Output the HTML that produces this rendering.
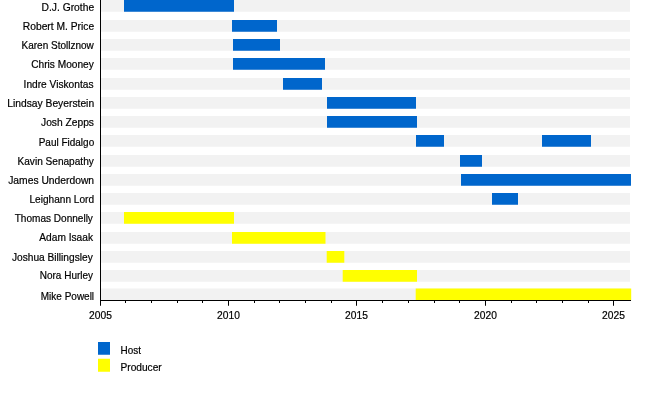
<!DOCTYPE html>
<html><head><meta charset="utf-8"><title>Timeline</title>
<style>
html,body{margin:0;padding:0;background:#fff;}
svg{display:block;}
text{font-family:"Liberation Sans",sans-serif;font-size:10.5px;fill:#000;stroke:#000;stroke-width:0.2px;}
</style></head><body>
<svg width="650" height="400" viewBox="0 0 650 400">
<rect x="0" y="0" width="650" height="400" fill="#fff"/>
<g fill="#f2f2f2">
<rect x="101" y="0" width="529" height="11.75"/>
<rect x="101" y="20" width="529" height="11.75"/>
<rect x="101" y="39" width="529" height="11.75"/>
<rect x="101" y="58" width="529" height="11.75"/>
<rect x="101" y="78" width="529" height="11.75"/>
<rect x="101" y="97" width="529" height="11.75"/>
<rect x="101" y="116" width="529" height="11.75"/>
<rect x="101" y="135" width="529" height="11.75"/>
<rect x="101" y="155" width="529" height="11.75"/>
<rect x="101" y="174" width="529" height="11.75"/>
<rect x="101" y="193" width="529" height="11.75"/>
<rect x="101" y="212" width="529" height="11.75"/>
<rect x="101" y="232" width="529" height="11.75"/>
<rect x="101" y="251" width="529" height="11.75"/>
<rect x="101" y="270" width="529" height="11.75"/>
<rect x="101" y="288.5" width="529" height="11.75"/>
</g>
<rect x="124" y="0" width="110" height="11.75" fill="#0066cc"/>
<rect x="232" y="20" width="45" height="11.75" fill="#0066cc"/>
<rect x="233" y="39" width="47" height="11.75" fill="#0066cc"/>
<rect x="233" y="58" width="92" height="11.75" fill="#0066cc"/>
<rect x="283" y="78" width="39" height="11.75" fill="#0066cc"/>
<rect x="327" y="97" width="89" height="11.75" fill="#0066cc"/>
<rect x="327" y="116" width="90" height="11.75" fill="#0066cc"/>
<rect x="416" y="135" width="28" height="11.75" fill="#0066cc"/>
<rect x="542" y="135" width="49" height="11.75" fill="#0066cc"/>
<rect x="460" y="155" width="22" height="11.75" fill="#0066cc"/>
<rect x="461" y="174" width="170" height="11.75" fill="#0066cc"/>
<rect x="492" y="193" width="26" height="11.75" fill="#0066cc"/>
<rect x="124" y="212" width="110" height="11.75" fill="#ffff00"/>
<rect x="232" y="232" width="93.5" height="11.75" fill="#ffff00"/>
<rect x="326.7" y="251" width="17.600000000000023" height="11.75" fill="#ffff00"/>
<rect x="342.7" y="270" width="74.30000000000001" height="11.75" fill="#ffff00"/>
<rect x="415.7" y="288.5" width="215.50000000000006" height="11.75" fill="#ffff00"/>
<g fill="#000">
<rect x="100" y="0" width="1" height="301"/>
<rect x="100" y="300" width="531" height="1"/>
<rect x="100" y="300" width="1" height="5.75"/>
<rect x="125" y="300" width="1" height="3"/>
<rect x="151" y="300" width="1" height="3"/>
<rect x="177" y="300" width="1" height="3"/>
<rect x="202" y="300" width="1" height="3"/>
<rect x="228" y="300" width="1" height="5.75"/>
<rect x="254" y="300" width="1" height="3"/>
<rect x="279" y="300" width="1" height="3"/>
<rect x="305" y="300" width="1" height="3"/>
<rect x="331" y="300" width="1" height="3"/>
<rect x="356" y="300" width="1" height="5.75"/>
<rect x="382" y="300" width="1" height="3"/>
<rect x="408" y="300" width="1" height="3"/>
<rect x="434" y="300" width="1" height="3"/>
<rect x="459" y="300" width="1" height="3"/>
<rect x="485" y="300" width="1" height="5.75"/>
<rect x="511" y="300" width="1" height="3"/>
<rect x="536" y="300" width="1" height="3"/>
<rect x="562" y="300" width="1" height="3"/>
<rect x="588" y="300" width="1" height="3"/>
<rect x="613" y="300" width="1" height="5.75"/>
</g>
<text x="100.50" y="319" text-anchor="middle" textLength="22.8" lengthAdjust="spacingAndGlyphs">2005</text>
<text x="228.50" y="319" text-anchor="middle" textLength="22.8" lengthAdjust="spacingAndGlyphs">2010</text>
<text x="356.50" y="319" text-anchor="middle" textLength="22.8" lengthAdjust="spacingAndGlyphs">2015</text>
<text x="485.50" y="319" text-anchor="middle" textLength="22.8" lengthAdjust="spacingAndGlyphs">2020</text>
<text x="613.50" y="319" text-anchor="middle" textLength="22.8" lengthAdjust="spacingAndGlyphs">2025</text>
<text x="41.50" y="11.00" textLength="52.60" lengthAdjust="spacingAndGlyphs">D.J. Grothe</text>
<text x="22.80" y="30.00" textLength="71.30" lengthAdjust="spacingAndGlyphs">Robert M. Price</text>
<text x="21.50" y="49.00" textLength="72.30" lengthAdjust="spacingAndGlyphs">Karen Stollznow</text>
<text x="31.20" y="68.00" textLength="62.60" lengthAdjust="spacingAndGlyphs">Chris Mooney</text>
<text x="23.60" y="87.50" textLength="69.90" lengthAdjust="spacingAndGlyphs">Indre Viskontas</text>
<text x="7.30" y="106.80" textLength="86.80" lengthAdjust="spacingAndGlyphs">Lindsay Beyerstein</text>
<text x="41.00" y="126.00" textLength="53.00" lengthAdjust="spacingAndGlyphs">Josh Zepps</text>
<text x="38.70" y="145.50" textLength="55.50" lengthAdjust="spacingAndGlyphs">Paul Fidalgo</text>
<text x="17.50" y="164.75" textLength="76.30" lengthAdjust="spacingAndGlyphs">Kavin Senapathy</text>
<text x="8.20" y="184.00" textLength="85.90" lengthAdjust="spacingAndGlyphs">James Underdown</text>
<text x="29.50" y="203.00" textLength="64.60" lengthAdjust="spacingAndGlyphs">Leighann Lord</text>
<text x="14.70" y="222.30" textLength="78.20" lengthAdjust="spacingAndGlyphs">Thomas Donnelly</text>
<text x="39.30" y="241.40" textLength="53.70" lengthAdjust="spacingAndGlyphs">Adam Isaak</text>
<text x="11.90" y="260.50" textLength="80.90" lengthAdjust="spacingAndGlyphs">Joshua Billingsley</text>
<text x="39.80" y="279.20" textLength="53.20" lengthAdjust="spacingAndGlyphs">Nora Hurley</text>
<text x="40.80" y="299.60" textLength="53.30" lengthAdjust="spacingAndGlyphs">Mike Powell</text>
<rect x="98" y="342" width="12" height="12.75" fill="#0066cc"/>
<rect x="98" y="358.75" width="12" height="13" fill="#ffff00"/>
<text x="120.6" y="353.75" textLength="20.4" lengthAdjust="spacingAndGlyphs">Host</text>
<text x="120.5" y="370.5" textLength="41.2" lengthAdjust="spacingAndGlyphs">Producer</text>
</svg>
</body></html>
